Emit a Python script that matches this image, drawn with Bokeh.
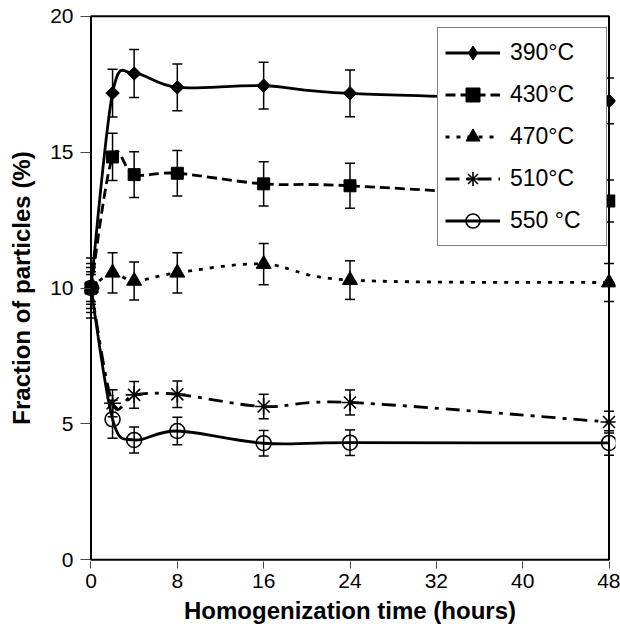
import numpy as np
from bokeh.plotting import figure
from bokeh.models import (Range1d, FixedTicker, Whisker, TeeHead, ColumnDataSource,
                          Legend, LegendItem)
from bokeh.embed import file_html
from bokeh.resources import INLINE

# ---------------- data ----------------
hours = [0, 2, 4, 8, 16, 24, 48]
series_labels = ["390°C", "430°C", "470°C", "510°C", "550 °C"]
frac_390 = [10.0, 17.17, 17.89, 17.38, 17.44, 17.16, 16.88]
err_390 = [1.10, 0.88, 0.88, 0.86, 0.86, 0.86, 0.84]
frac_430 = [10.0, 14.82, 14.17, 14.22, 13.83, 13.76, 13.20]
err_430 = [0.90, 0.87, 0.84, 0.84, 0.81, 0.83, 0.77]
frac_470 = [10.0, 10.56, 10.26, 10.56, 10.88, 10.29, 10.20]
err_470 = [0.75, 0.74, 0.70, 0.74, 0.76, 0.71, 0.70]
frac_510 = [10.0, 5.76, 6.07, 6.09, 5.64, 5.79, 5.07]
err_510 = [0.60, 0.50, 0.49, 0.49, 0.45, 0.46, 0.40]
frac_550 = [10.0, 5.17, 4.41, 4.74, 4.29, 4.31, 4.30]
err_550 = [0.50, 0.70, 0.48, 0.51, 0.47, 0.47, 0.45]
x_ticks = [0, 8, 16, 24, 32, 40, 48]
y_ticks = [0, 5, 10, 15, 20]

FONT = "Liberation Sans"
X_PAD = 0.6

p = figure(width=620, height=637, output_backend="svg", toolbar_location=None,
           x_range=Range1d(x_ticks[0] - X_PAD, x_ticks[-1] + X_PAD),
           y_range=Range1d(y_ticks[0] - 0.06, y_ticks[-1] + 0.06),
           min_border_left=84, min_border_right=5, min_border_top=14, min_border_bottom=76)
p.background_fill_color = "white"
p.border_fill_color = "white"
p.outline_line_color = None
p.xgrid.visible = False
p.ygrid.visible = False

# plot box (frame of the data area)
p.quad(left=[x_ticks[0]], right=[x_ticks[-1]], bottom=[y_ticks[0]], top=[y_ticks[-1]],
       fill_color=None, line_color="black", line_width=2)


def smooth_ctrl(xs, ys):
    """Catmull-Rom style control points (like Excel's smoothed line)."""
    n = len(xs)
    out = dict(x0=[], y0=[], x1=[], y1=[], cx0=[], cy0=[], cx1=[], cy1=[])
    for i in range(n - 1):
        im, ip2 = max(i - 1, 0), min(i + 2, n - 1)
        out["x0"].append(xs[i]); out["y0"].append(ys[i])
        out["x1"].append(xs[i + 1]); out["y1"].append(ys[i + 1])
        out["cx0"].append(xs[i] + (xs[i + 1] - xs[im]) / 6.0)
        out["cy0"].append(ys[i] + (ys[i + 1] - ys[im]) / 6.0)
        out["cx1"].append(xs[i + 1] - (xs[ip2] - xs[i]) / 6.0)
        out["cy1"].append(ys[i + 1] - (ys[ip2] - ys[i]) / 6.0)
    return out


# (values, errors, dash, chart marker style, legend-only marker style)
series = [
    (frac_390, err_390, "solid",
     dict(marker="square", angle=np.pi / 4, size=9.5, fill_color="black", line_color="black"),
     dict(marker="diamond", fill_color="black", line_color="black")),
    (frac_430, err_430, "10 5",
     dict(marker="square", size=12, fill_color="black", line_color="black"), None),
    (frac_470, err_470, "4 7",
     dict(marker="triangle", size=15, fill_color="black", line_color="black"), None),
    (frac_510, err_510, "14 7 4 7",
     dict(marker="asterisk", size=17, line_width=1.6, line_color="black"), None),
    (frac_550, err_550, "solid",
     dict(marker="circle", size=15, line_width=1.6, fill_color=None, line_color="black"), None),
]

items = []
for (vals, errs, dash, mk, leg_mk), lab in zip(series, series_labels):
    cp = smooth_ctrl(hours, vals)
    cr = p.bezier(x0="x0", y0="y0", x1="x1", y1="y1", cx0="cx0", cy0="cy0",
                  cx1="cx1", cy1="cy1", source=ColumnDataSource(cp),
                  line_color="black", line_width=2.8, line_dash=dash)
    src = ColumnDataSource(dict(x=hours, y=vals,
                                lower=[v - e for v, e in zip(vals, errs)],
                                upper=[v + e for v, e in zip(vals, errs)]))
    w = Whisker(base="x", lower="lower", upper="upper", source=src,
                line_color="black", line_width=1.5,
                upper_head=TeeHead(size=10, line_width=1.5, line_color="black"),
                lower_head=TeeHead(size=10, line_width=1.5, line_color="black"))
    p.add_layout(w)
    mr = p.scatter(x="x", y="y", source=src, **mk)
    if leg_mk is not None:
        # legend-only glyph (not placed on the chart)
        lr = p.scatter(x=np.array([np.nan]), y=np.array([np.nan]), **leg_mk)
        items.append(LegendItem(label=lab, renderers=[cr, lr]))
    else:
        items.append(LegendItem(label=lab, renderers=[cr, mr]))

legend = Legend(items=items, location=(353, 315), orientation="vertical",
                label_text_font=FONT, label_text_font_size="23px",
                label_text_color="black",
                glyph_width=55, glyph_height=35, label_height=35, label_width=89,
                label_standoff=10, spacing=7, padding=7,
                border_line_color="black", border_line_width=1,
                background_fill_color="white", background_fill_alpha=1.0)
p.add_layout(legend, "center")

# axes
for ax in (p.xaxis, p.yaxis):
    ax.axis_line_color = None
    ax.minor_tick_line_color = None
    ax.major_tick_line_color = "#444444"
    ax.major_tick_line_width = 1
    ax.major_label_text_font = FONT
    ax.major_label_text_font_size = "21px"
    ax.major_label_text_color = "black"
    ax.axis_label_text_font = FONT
    ax.axis_label_text_font_size = "24px"
    ax.axis_label_text_font_style = "bold"
    ax.axis_label_text_color = "black"

p.xaxis.ticker = FixedTicker(ticks=x_ticks)
p.yaxis.ticker = FixedTicker(ticks=y_ticks)
p.xaxis.axis_label = "Homogenization time (hours)"
p.yaxis.axis_label = "Fraction of particles (%)"
p.xaxis.major_tick_in = 0
p.xaxis.major_tick_out = 7
p.xaxis.major_label_standoff = 5
p.xaxis.axis_label_standoff = 6
p.yaxis.major_tick_in = 6
p.yaxis.major_tick_out = 4
p.yaxis.major_label_standoff = 7
p.yaxis.axis_label_standoff = 12

html = file_html(p, INLINE)
open("out.html", "w").write(html)
